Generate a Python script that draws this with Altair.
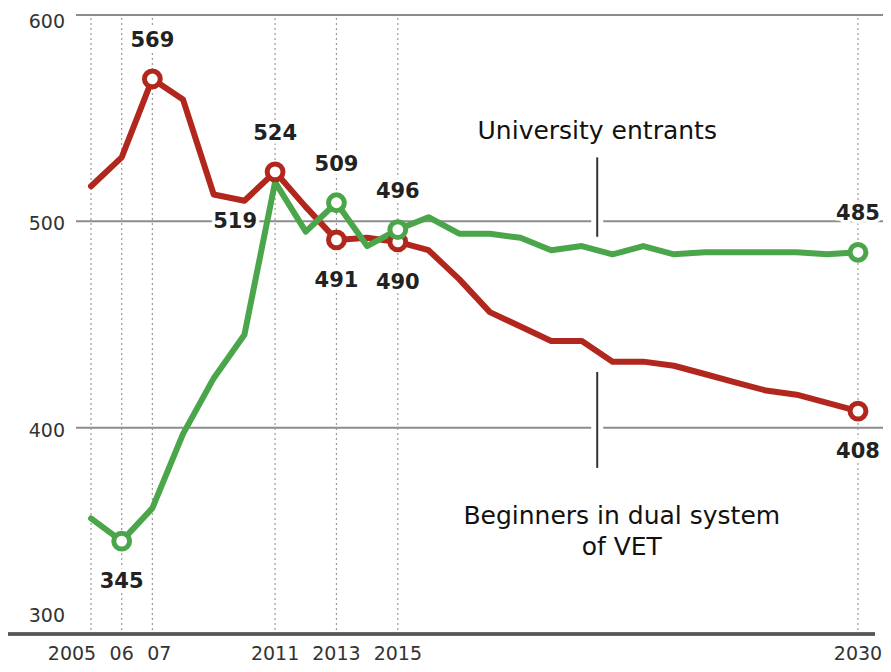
import altair as alt
import pandas as pd

# ---------------- data ----------------
years = list(range(2005, 2031))
vet_beginners = [517, 531, 569, 559, 513, 510, 524, 507, 491, 492, 490, 486, 472,
                 456, 449, 442, 442, 432, 432, 430, 426, 422, 418, 416, 412, 408]
uni_entrants = [356, 345, 361, 397, 424, 445, 519, 495, 509, 488, 496, 502, 494,
                494, 492, 486, 488, 484, 488, 484, 485, 485, 485, 485, 484, 485]

series_names = ["Beginners in dual system of VET", "University entrants"]
series_colors = ["#b2271d", "#4ba64b"]

vet_marked = [2007, 2011, 2013, 2015, 2030]
uni_marked = [2006, 2013, 2015, 2030]

vet_label_above = [2007, 2011]
vet_label_below = [2013, 2015, 2030]
uni_label_above = [2013, 2015, 2030]
uni_label_below = [2006]
uni_label_left = [2011]

y_grid = [400, 500, 600]
y_ticks_mid = [500, 400]
y_tick_top = [600]
y_tick_bottom = [300]
x_ticks = [2005, 2006, 2007, 2011, 2013, 2015, 2030]
x_tick_labels = ["2005", "06", "07", "2011", "2013", "2015", "2030"]

legend_uni = {"year": 2021.5, "value": 544, "text": "University entrants"}
legend_vet = [{"year": 2022.3, "value": 357, "text": "Beginners in dual system"},
              {"year": 2022.3, "value": 342, "text": "of VET"}]
leaders = [{"year": 2021.5, "y1": 531, "y2": 492.5, "gy1": 498.6, "gy2": 501.4},
           {"year": 2021.5, "y1": 427, "y2": 380.5, "gy1": 398.6, "gy2": 401.4}]

# ---------------- tables ----------------
rows = []
for name, vals, marked, above, below, left in [
    (series_names[0], vet_beginners, vet_marked, vet_label_above, vet_label_below, []),
    (series_names[1], uni_entrants, uni_marked, uni_label_above, uni_label_below, uni_label_left),
]:
    for yr, v in zip(years, vals):
        lab = "above" if yr in above else "below" if yr in below else "left" if yr in left else ""
        rows.append({"year": yr, "value": v, "series": name,
                     "marked": yr in marked, "lab": lab})
df = pd.DataFrame(rows)

grid_df = pd.DataFrame({"value": y_grid})
xt_df = pd.DataFrame({"year": x_ticks, "label": x_tick_labels})
leader_df = pd.DataFrame(leaders)

W, H = 807, 619
FONT = "DejaVu Sans"

xs = alt.Scale(domain=[2004.511, 2030.815], nice=False, zero=False)
ys = alt.Scale(domain=[300, 600], nice=False, zero=False)
X = lambda f="year": alt.X(f"{f}:Q", scale=xs, axis=None)
Y = lambda f="value": alt.Y(f"{f}:Q", scale=ys, axis=None)
color = alt.Color("series:N", scale=alt.Scale(domain=series_names, range=series_colors), legend=None)

base = alt.Chart(df)

grid = alt.Chart(grid_df).mark_rule(color="#8c8c8c", strokeWidth=2).encode(
    y=Y(), x=alt.value(0), x2=alt.value(W))

vdots = alt.Chart(xt_df).mark_rule(color="#9a9a9a", strokeWidth=1.2, strokeDash=[2, 3]).encode(
    x=X(), y=alt.value(3), y2=alt.value(H))

halo_gap = alt.Chart(leader_df).mark_rule(color="white", strokeWidth=12).encode(
    x=X(), y=Y("gy1"), y2=alt.Y2("gy2"))
leader = alt.Chart(leader_df).mark_rule(color="#333333", strokeWidth=2).encode(
    x=X(), y=Y("y1"), y2=alt.Y2("y2"))

lines = base.mark_line(strokeWidth=6, strokeJoin="round", strokeCap="round").encode(
    x=X(), y=Y(), color=color, order="year:Q")

circles = base.transform_filter("datum.marked").mark_point(
    shape="circle", filled=False, fill="white", fillOpacity=1, size=250, strokeWidth=5, opacity=1
).encode(x=X(), y=Y(), stroke=alt.Stroke("series:N", scale=alt.Scale(domain=series_names, range=series_colors), legend=None))


def value_labels(pos, dx, dy):
    common = dict(fontSize=21, fontWeight="bold", font=FONT, dx=dx, dy=dy,
                  align="center", baseline="middle")
    src = base.transform_filter(f"datum.lab == '{pos}'")
    halo = src.mark_text(color="white", stroke="white", strokeWidth=7, strokeJoin="round", **common).encode(
        x=X(), y=Y(), text=alt.Text("value:Q", format="d"))
    txt = src.mark_text(color="#222222", **common).encode(
        x=X(), y=Y(), text=alt.Text("value:Q", format="d"))
    return halo + txt


lbl_above = value_labels("above", 0, -38)
lbl_below = value_labels("below", 0, 41)
lbl_left = value_labels("left", -40, 40)

# y-axis labels
def ylab(vals, dy):
    return alt.Chart(pd.DataFrame({"value": vals})).mark_text(
        font=FONT, fontSize=19, color="#333333", align="right", baseline="middle", dy=dy
    ).encode(y=Y(), x=alt.value(-11), text=alt.Text("value:Q", format="d"))

ylabels = ylab(y_ticks_mid, 3) + ylab(y_tick_top, 7) + ylab(y_tick_bottom, -18)

# x-axis labels
def xlab(filter_expr, dx):
    return alt.Chart(xt_df).transform_filter(filter_expr).mark_text(
        font=FONT, fontSize=19, color="#333333", align="center", baseline="middle", dx=dx
    ).encode(x=X(), y=alt.value(H + 20), text="label:N")

xlabels = (xlab("datum.label == '2005'", -19) + xlab("datum.label == '07'", 7)
           + xlab("datum.label != '2005' && datum.label != '07'", 0))

axis_line = alt.Chart(grid_df).mark_rule(color="#555555", strokeWidth=3).encode(
    x=alt.value(-68), x2=alt.value(W - 8), y=alt.value(H))

legend_text = alt.Chart(pd.DataFrame([legend_uni] + legend_vet)).mark_text(
    font=FONT, fontSize=25, color="#111111", align="center", baseline="middle"
).encode(x=X(), y=Y(), text="text:N")

chart = alt.layer(
    grid, vdots, halo_gap, leader, lines, circles,
    lbl_above, lbl_below, lbl_left, ylabels, xlabels, axis_line, legend_text
).properties(
    width=W, height=H,
    autosize=alt.AutoSizeParams(type="none"),
    padding={"left": 68, "top": 7, "right": 0, "bottom": 30},
).configure_view(stroke=None)

chart.save("out.html", embed_options={"renderer": "svg", "actions": False})
